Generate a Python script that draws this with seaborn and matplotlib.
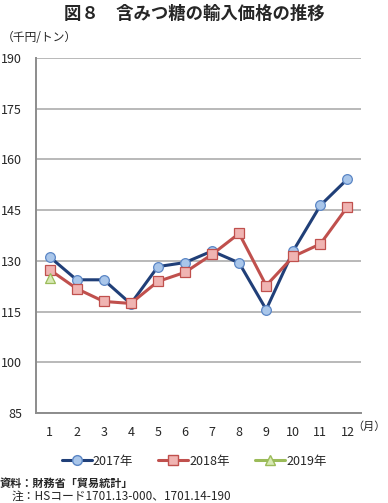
import matplotlib
matplotlib.use('Agg')
import matplotlib.pyplot as plt
import seaborn as sns
import pandas as pd

months = list(range(1, 13))
price_2017 = [131.2, 124.4, 124.4, 117.3, 128.3, 129.5, 132.9, 129.4, 115.6, 133.0, 146.4, 154.2]
price_2018 = [127.4, 121.8, 118.0, 117.4, 123.9, 126.6, 131.9, 138.1, 122.7, 131.3, 135.0, 146.0]
price_2019 = [124.8]
years = ['2017年', '2018年', '2019年']
yticks = [85, 100, 115, 130, 145, 160, 175, 190]

rows = []
for y, vals in zip(years, [price_2017, price_2018, price_2019]):
    for m, v in zip(months, vals):
        rows.append({'month': m, 'price': v, 'year': y})
df = pd.DataFrame(rows)

sns.set_style('white')
plt.rcParams['font.family'] = ['Noto Sans CJK JP', 'DejaVu Sans']

line_colors = {'2017年': '#203f78', '2018年': '#c0504d', '2019年': '#9bbb59'}
face_colors = {'2017年': '#a9c6ea', '2018年': '#f0b4b2', '2019年': '#d7e9b4'}
edge_colors = {'2017年': '#5b86c5', '2018年': '#c0504d', '2019年': '#9bbb59'}
marker_map = {'2017年': 'o', '2018年': 's', '2019年': '^'}

fig = plt.figure(figsize=(3.88, 5.03), dpi=100)
ax = fig.add_axes([0.0928, 0.1789, 0.8376, 0.7058])

sns.lineplot(data=df, x='month', y='price', hue='year', style='year',
             palette=line_colors, markers=marker_map, dashes=False,
             linewidth=2.2, markersize=7, ax=ax, legend=False)

# recolour markers per series
for line, y in zip(ax.get_lines(), years):
    line.set_markerfacecolor(face_colors[y])
    line.set_markeredgecolor(edge_colors[y])
    line.set_markeredgewidth(0.9)

ax.set_xlim(0.5, 12.5)
ax.set_ylim(85, 190)
ax.set_yticks(yticks)
ax.set_yticklabels([str(t) for t in yticks], fontsize=9)
ax.set_xticks(months)
ax.set_xticklabels([str(m) for m in months], fontsize=9)
ax.set_xticks([m + 0.5 for m in range(0, 13)], minor=True)
ax.tick_params(axis='x', which='major', length=0, pad=9)
ax.tick_params(axis='x', which='minor', length=4, color='#888888', direction='out')
ax.tick_params(axis='y', length=0, pad=10)
ax.yaxis.grid(True, color='#a6a6a6', linewidth=1.1)
ax.set_axisbelow(True)
for s in ['top', 'right']:
    ax.spines[s].set_visible(False)
for s in ['left', 'bottom']:
    ax.spines[s].set_color('#8c8c8c')
    ax.spines[s].set_linewidth(1.4)
ax.set_xlabel('')
ax.set_ylabel('')

fig.text(0.5, 0.972, '図８　含みつ糖の輸入価格の推移', ha='center', va='center',
         fontsize=12.5, fontweight='bold')
fig.text(0.005, 0.925, '（千円/トン）', ha='left', va='center', fontsize=8.5)
fig.text(0.995, 0.151, '（月）', ha='right', va='center', fontsize=8)

handles = []
for y in years:
    h, = ax.plot([], [], color=line_colors[y], marker=marker_map[y], linewidth=2.2,
                 markersize=7, markerfacecolor=face_colors[y],
                 markeredgecolor=edge_colors[y])
    handles.append(h)
fig.legend(handles, years, loc='center', bbox_to_anchor=(0.5, 0.083), ncol=3,
           frameon=False, fontsize=9, handlelength=2.4, handletextpad=0.1,
           columnspacing=2.0)

fig.text(0.0, 0.039, '資料：財務省「貿易統計」', ha='left', va='center',
         fontsize=8, fontweight='bold')
fig.text(0.03, 0.013, '注：HSコード1701.13-000、1701.14-190', ha='left', va='center',
         fontsize=8.5)

fig.savefig('out.png', dpi=100)
